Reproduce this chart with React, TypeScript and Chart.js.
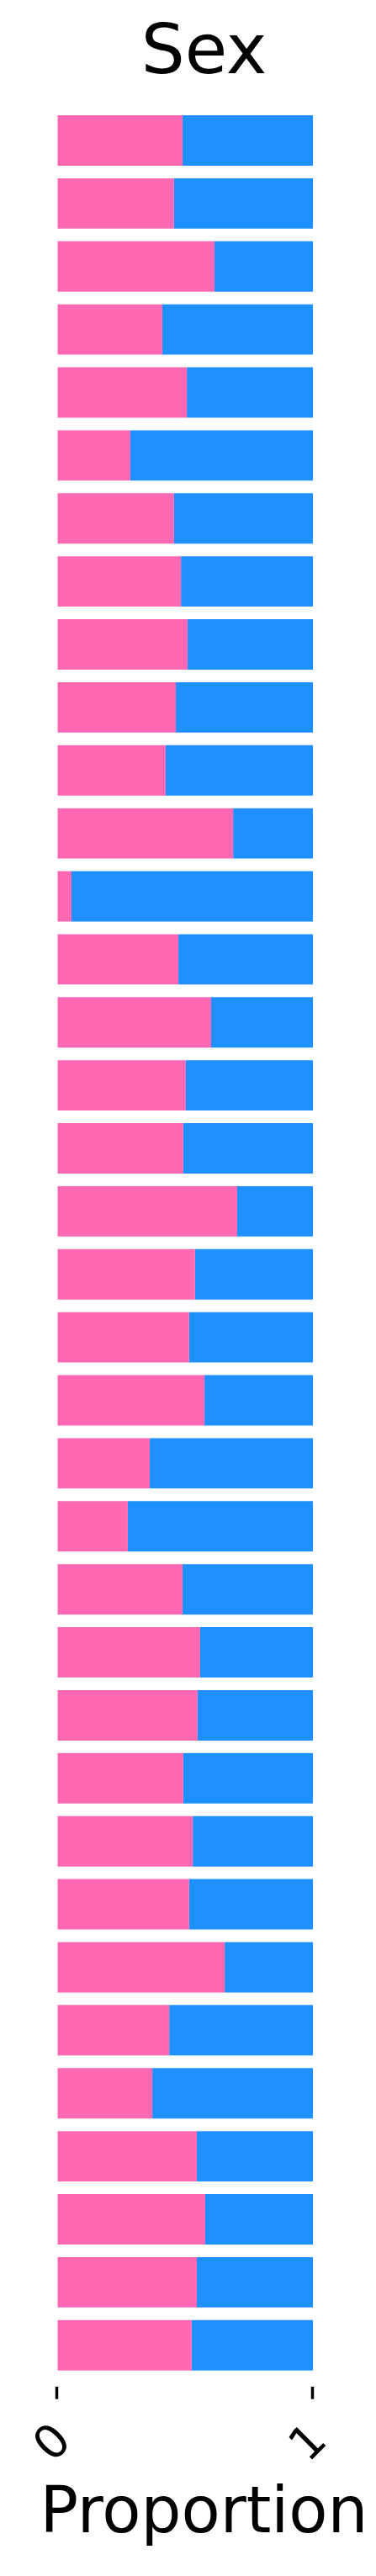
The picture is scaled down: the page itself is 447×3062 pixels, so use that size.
import { useEffect, useRef } from 'react';
import { Chart, registerables } from 'chart.js';

Chart.register(...registerables);

// Row positions (top to bottom), one per bar
const rowIndex = [
  0, 1, 2, 3, 4, 5, 6, 7, 8, 9, 10, 11, 12, 13, 14, 15, 16, 17,
  18, 19, 20, 21, 22, 23, 24, 25, 26, 27, 28, 29, 30, 31, 32, 33, 34, 35,
];

// Proportion of female (pink) per row
const female = [
  0.490, 0.457, 0.615, 0.411, 0.507, 0.286, 0.457, 0.484, 0.510, 0.464,
  0.424, 0.688, 0.056, 0.474, 0.602, 0.503, 0.493, 0.704, 0.539, 0.516,
  0.576, 0.362, 0.276, 0.490, 0.559, 0.549, 0.493, 0.530, 0.516, 0.655,
  0.438, 0.372, 0.546, 0.579, 0.546, 0.526,
];

// Proportion of male (blue) per row
const male = [
  0.510, 0.543, 0.385, 0.589, 0.493, 0.714, 0.543, 0.516, 0.490, 0.536,
  0.576, 0.312, 0.944, 0.526, 0.398, 0.497, 0.507, 0.296, 0.461, 0.484,
  0.424, 0.638, 0.724, 0.510, 0.441, 0.451, 0.507, 0.470, 0.484, 0.345,
  0.562, 0.628, 0.454, 0.421, 0.454, 0.474,
];

const xTickValues = [0, 1];

const FONT = "'DejaVu Sans', sans-serif";

export default function App() {
  const canvasRef = useRef<HTMLCanvasElement | null>(null);

  useEffect(() => {
    const canvas = canvasRef.current;
    if (!canvas) return;
    const chart = new Chart(canvas, {
      type: 'bar',
      data: {
        datasets: [
          {
            label: 'Female',
            data: female.map((v, i) => ({ x: v, y: rowIndex[i] })),
            backgroundColor: '#FF69B4',
            borderWidth: 0,
            categoryPercentage: 1,
            barPercentage: 0.8,
          },
          {
            label: 'Male',
            data: male.map((v, i) => ({ x: v, y: rowIndex[i] })),
            backgroundColor: '#1E90FF',
            borderWidth: 0,
            categoryPercentage: 1,
            barPercentage: 0.8,
          },
        ],
      },
      options: {
        indexAxis: 'y',
        responsive: false,
        animation: false,
        layout: { padding: { left: 47.5, right: 9.5, top: 0, bottom: 37 } },
        plugins: {
          legend: { display: false },
          tooltip: { enabled: false },
          title: {
            display: true,
            text: 'Sex',
            color: '#000',
            font: { family: FONT, size: 82, weight: 'normal' },
            padding: { top: 16.4, bottom: 3.2 },
          },
        },
        scales: {
          x: {
            type: 'linear',
            stacked: true,
            min: -0.0674,
            max: 1.2155,
            position: 'bottom',
            border: { display: false },
            grid: {
              display: true,
              drawOnChartArea: false,
              drawTicks: true,
              tickLength: 15,
              tickWidth: 3.5,
              tickColor: '#000',
            },
            afterBuildTicks: (scale: any) => {
              scale.ticks = xTickValues.map((v) => ({ value: v }));
            },
            ticks: {
              minRotation: 45,
              maxRotation: 45,
              padding: 18.3,
              labelOffset: 9,
              color: '#000',
              font: { family: FONT, size: 55 },
            },
            title: {
              display: true,
              text: 'Proportion',
              color: '#000',
              font: { family: FONT, size: 77, lineHeight: 0.9 },
              padding: { top: -4, bottom: 0 },
            },
          },
          y: {
            type: 'linear',
            stacked: true,
            reverse: true,
            offset: false,
            min: -0.654,
            max: 35.654,
            display: false,
            ticks: { stepSize: 1, includeBounds: false },
          },
        },
      },
    } as any);
    return () => chart.destroy();
  }, []);

  return (
    <div style={{ position: 'absolute', left: 0, top: 0, width: 447, height: 3062, background: '#fff' }}>
      <canvas ref={canvasRef} width={447} height={3062} style={{ display: 'block' }} />
    </div>
  );
}
